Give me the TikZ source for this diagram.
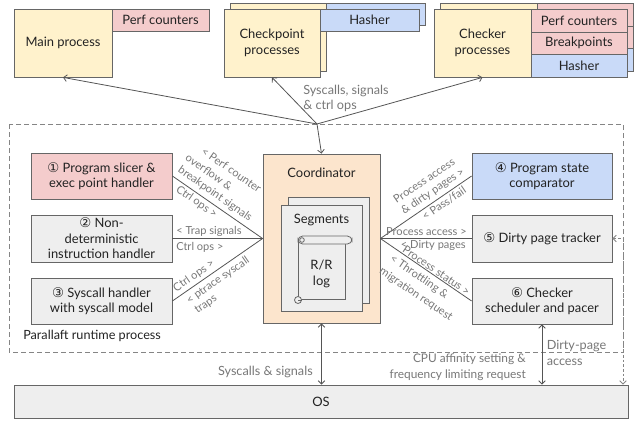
\documentclass[tikz,border=0pt]{standalone}
\usepackage{fontspec}
\setmainfont{Lato}
\newfontfamily\dejavu{DejaVu Sans}
\usetikzlibrary{arrows.meta}
\definecolor{cYellow}{HTML}{FFF2CC}
\definecolor{cPink}{HTML}{F4CCCC}
\definecolor{cBlue}{HTML}{C9DAF8}
\definecolor{cGray}{HTML}{EEEEEE}
\definecolor{cPeach}{HTML}{FCE5CD}
\definecolor{cBorder}{HTML}{666666}
\definecolor{cLine}{HTML}{555555}
\definecolor{cLabel}{HTML}{777777}
\definecolor{cText}{HTML}{222222}
\newcommand{\mainfs}{\fontsize{9.7}{11.6}\selectfont}
\newcommand{\glabfs}{\fontsize{9.5}{11.6}\selectfont}
\newcommand{\labfs}{\fontsize{8.3}{9.8}\selectfont}
\newcommand{\cn}[1]{{\dejavu\fontsize{10}{10}\selectfont #1}}
\tikzset{
  box/.style={draw=cBorder, line width=0.6pt, inner sep=0pt, align=center, text=cText, font=\mainfs},
  wh/.style 2 args={minimum width=#1*0.75pt, minimum height=#2*0.75pt},
  conn/.style={draw=cLine, line width=0.6pt},
  arr/.style={conn, -{Straight Barb[length=2.5pt,width=5pt]}},
  barr/.style={conn, {Straight Barb[length=2.5pt,width=5pt]}-{Straight Barb[length=2.5pt,width=5pt]}},
  lab/.style={font=\labfs, text=cLabel, inner sep=0pt},
  mlab/.style={font=\glabfs, text=cLabel, inner sep=0pt},
  txt/.style={font=\mainfs, text=cText, inner sep=0pt, align=center},
  sc/.style={draw=cBorder, line width=0.6pt},
}
\begin{document}
\begin{tikzpicture}[x=0.75pt,y=-0.75pt]
\useasboundingbox (0,0) rectangle (639,421);

% ---------- top processes ----------
\node[box, fill=cYellow, wh={98}{68}] (main) at (63,43) {Main process};
\node[box, fill=cPink, wh={97}{22}] (mperf) at (160.5,20) {Perf counters};

\node[box, fill=cYellow, wh={96}{68}] (cpback) at (278,37) {};
\node[box, fill=cBlue, wh={99}{22}] (cphback) at (375.5,14) {};
\node[box, fill=cYellow, wh={96}{68}] (cp) at (272,43) {Checkpoint\\processes};
\node[box, fill=cBlue, wh={99}{22}] (cph) at (369.5,20) {Hasher};

\node[box, fill=cYellow, wh={97}{68}] (ckback) at (488.5,37) {};
\node[box, fill=cPink, wh={96}{23}] (ckb1) at (585,14.5) {};
\node[box, fill=cPink, wh={96}{22}] (ckb2) at (585,37) {};
\node[box, fill=cBlue, wh={96}{23}] (ckb3) at (585,59.5) {};
\node[box, fill=cYellow, wh={97}{68}] (ck) at (482.5,43) {Checker\\processes};
\node[box, fill=cPink, wh={96}{23}] (ckperf) at (579,20.5) {Perf counters};
\node[box, fill=cPink, wh={96}{22}] (ckbrk) at (579,43) {Breakpoints};
\node[box, fill=cBlue, wh={96}{23}] (ckhash) at (579,65.5) {Hasher};

% ---------- runtime process frame ----------
\draw[draw=cBorder!80, line width=0.6pt, dash pattern=on 3.5pt off 2.5pt] (9,124) rectangle (623,352);
\node[txt, font=\glabfs, anchor=west] (rtlabel) at (23,336) {Parallaft runtime process};

% ---------- left components ----------
\node[box, fill=cPink, wh={141}{46}] (b1) at (101.5,176) {\cn{①} Program slicer \&\\exec point handler};
\node[box, fill=cGray, wh={141}{47}] (b2) at (101.5,238.5) {\cn{②} Non-\\deterministic\\instruction handler};
\node[box, fill=cGray, wh={141}{46}] (b3) at (101.5,301) {\cn{③} Syscall handler\\with syscall model};

% ---------- right components ----------
\node[box, fill=cBlue, wh={140}{46}] (b4) at (542,176) {\cn{④} Program state\\comparator};
\node[box, fill=cGray, wh={140}{47}] (b5) at (542,238.5) {\cn{⑤} Dirty page tracker};
\node[box, fill=cGray, wh={140}{46}] (b6) at (542,301) {\cn{⑥} Checker\\scheduler and pacer};

% ---------- coordinator ----------
\node[box, fill=cPeach, wh={117}{169}] (coord) at (321.5,238.5) {};
\node[txt] (coordt) at (321.5,173) {Coordinator};
\node[box, fill=cGray, wh={81}{106}] (segback) at (328.5,250) {};
\node[box, fill=cGray, wh={81}{106}] (seg) at (321.5,258) {};
\node[txt] (segt) at (321.5,220) {Segments};
% scroll
\fill[cGray] (298,240) rectangle (345,300);
\draw[sc] (298,240) -- (298,297);
\draw[sc] (345,244) -- (345,299) -- (300,299);
\draw[sc, fill=cGray] (298,300) circle[radius=3.5];
\draw[sc] (298,300) -- (301.5,300);
\draw[sc, fill=cGray, rounded corners=3.5pt] (298,236) rectangle (352,244);
\draw[sc] (302,240) circle[radius=2.3];
\node[txt] (rrlog) at (321.5,274) {R/R\\log};

% ---------- OS ----------
\node[box, fill=cGray, wh={614}{33}] (os) at (321,401.5) {OS};

% ---------- top connectors ----------
\coordinate (J) at (317,124);
\draw[arr] (J) -- (main.south);
\draw[arr] (J) -- (cp.south);
\draw[arr] (J) -- (ck.south);
\draw[arr] (J) -- (coord.north);
\node[mlab, anchor=west, align=left] (topl) at (303,98.5) {Syscalls, signals\\\& ctrl ops};

% ---------- left connectors ----------
\draw[conn] (b1.east) -- (coord.west);
\draw[conn] (b2.east) -- (coord.west);
\draw[conn] (b3.east) -- (coord.west);
\node[lab, rotate=-34.8] (l1a) at (231.5,170) {< Perf counter};
\node[lab, rotate=-34.8] (l1b) at (209,172) {overflow \&};
\node[lab, rotate=-34.8] (l1c) at (215,194) {breakpoint signals};
\node[lab, rotate=-34.8] (l1d) at (196.5,202) {Ctrl ops >};
\node[lab, anchor=west] (l2a) at (176,231.5) {< Trap signals};
\node[lab, anchor=west] (l2b) at (176,247) {Ctrl ops >};
\node[lab, rotate=34.8] (l3a) at (194,276) {Ctrl ops >};
\node[lab, rotate=34.8] (l3b) at (218,280.5) {< ptrace syscall};
\node[lab, rotate=34.8] (l3c) at (206,304.5) {traps};

% ---------- right connectors ----------
\draw[conn] (coord.east) -- (b4.west);
\draw[conn] (coord.east) -- (b5.west);
\draw[conn] (coord.east) -- (b6.west);
\node[lab, rotate=34.2] (r4a) at (424,180.5) {Process access};
\node[lab, rotate=34.2] (r4b) at (433,191.5) {\& dirty pages >};
\node[lab, rotate=34.2] (r4c) at (444,203.5) {< Pass/fail};
\node[lab, anchor=east] (r5a) at (467,232) {Process access >};
\node[lab, anchor=east] (r5b) at (466,245) {< Dirty pages};
\node[lab, rotate=-34.2] (r6a) at (436.5,270.5) {Process status >};
\node[lab, rotate=-34.2] (r6b) at (419,277) {< Throttling \&};
\node[lab, rotate=-34.2] (r6c) at (416,294.5) {migration request};

% ---------- bottom connectors ----------
\draw[barr] (coord.south) -- (coord.south |- os.north);
\node[mlab, anchor=east] (bl1) at (313,371.5) {Syscalls \& signals};
\draw[barr] (b6.south) -- (b6.south |- os.north);
\node[mlab, font=\fontsize{8.9}{11.6}\selectfont, anchor=east, align=right] (bl2) at (526,367) {CPU affinity setting \&\\frequency limiting request};
\node[mlab, anchor=west, align=left] (bl3) at (546.5,353) {Dirty-page\\access};
\coordinate (Rx) at (623,238.5);
\draw[barr, draw=cBorder!80, dash pattern=on 2pt off 1.5pt] (b5.east) -- (Rx) -- (Rx |- os.north);
\end{tikzpicture}
\end{document}
